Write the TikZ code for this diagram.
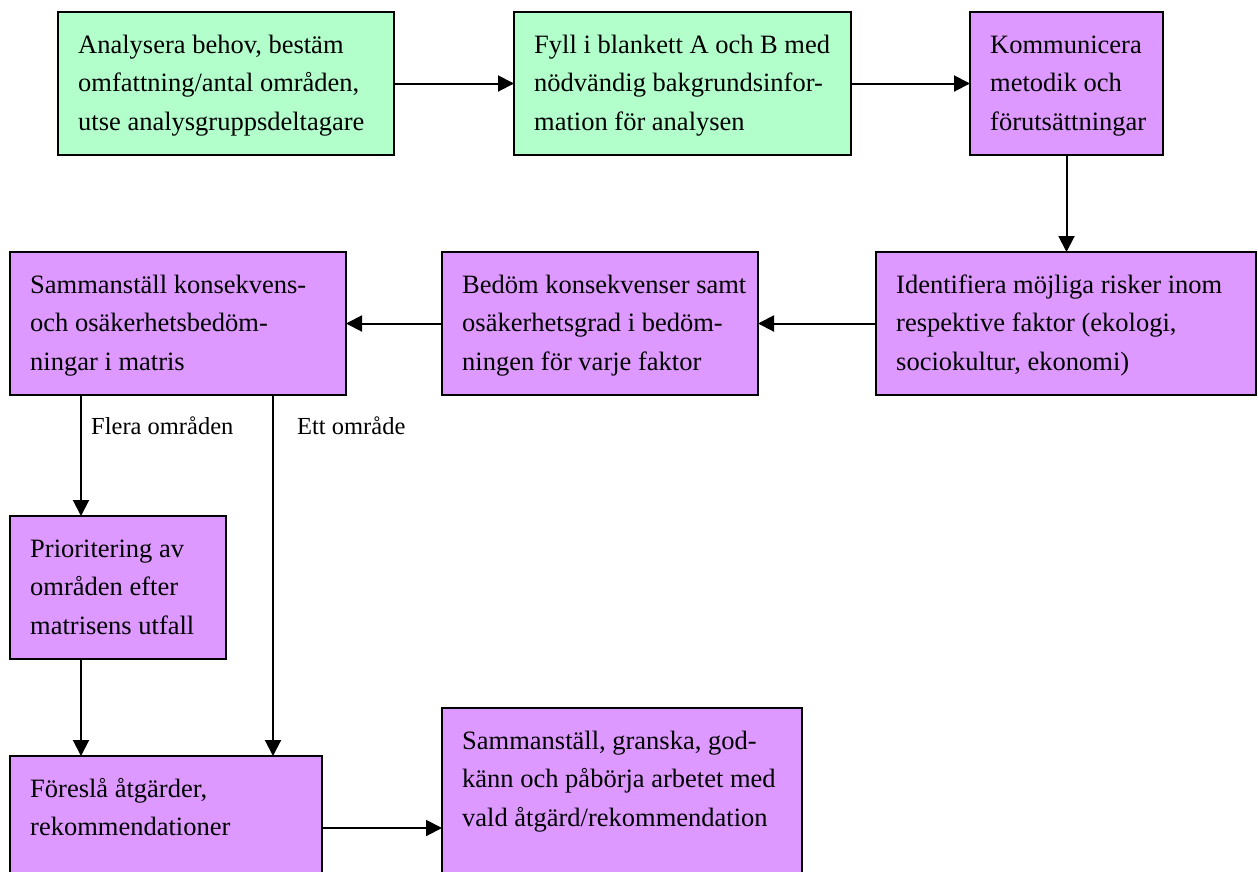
\documentclass[tikz,border=0pt]{standalone}
\usepackage{fontspec}
\setmainfont{Liberation Serif}
\usetikzlibrary{arrows.meta}
\definecolor{boxgreen}{RGB}{179,255,204}
\definecolor{boxpurple}{RGB}{221,153,255}
\tikzset{
  box/.style={draw=black, line width=2.2pt, anchor=north west, inner sep=0pt, outer sep=0pt},
  gbox/.style={box, fill=boxgreen},
  pbox/.style={box, fill=boxpurple},
  txt/.style={anchor=base west, inner sep=0pt, font=\fontsize{26.5}{38.5}\selectfont},
  lbl/.style={anchor=base west, inner sep=0pt, font=\fontsize{24.5}{30}\selectfont},
  arr/.style={line width=2pt, -{Triangle[length=16pt,width=16pt]}}
}
\newcommand{\lines}[1]{\begin{tabular}[t]{@{}l@{}}#1\end{tabular}}
\begin{document}
\begin{tikzpicture}[x=1pt,y=-1pt]
\clip (0,0) rectangle (1258,871);
\fill[white] (0,0) rectangle (1258,871);
% boxes
\node[gbox, minimum width=336pt, minimum height=143pt] (b1) at (58,12) {};
\node[gbox, minimum width=337pt, minimum height=143pt] (b2) at (514,12) {};
\node[pbox, minimum width=193pt, minimum height=143pt] (b3) at (970,12) {};
\node[pbox, minimum width=380pt, minimum height=143pt] (b4) at (876,252) {};
\node[pbox, minimum width=316pt, minimum height=143pt] (b5) at (442,252) {};
\node[pbox, minimum width=336pt, minimum height=143pt] (b6) at (10,252) {};
\node[pbox, minimum width=216pt, minimum height=143pt] (b7) at (10,516) {};
\node[pbox, minimum width=312pt, minimum height=144pt] (b8) at (10,756) {};
\node[pbox, minimum width=360pt, minimum height=200pt] (b9) at (442,708) {};
% texts
\node[txt] (t1) at (78,53) {\lines{Analysera behov, bestäm\\omfattning/antal områden,\\utse analysgruppsdeltagare}};
\node[txt] (t2) at (534,53) {\lines{Fyll i blankett A och B med\\nödvändig bakgrundsinfor-\\mation för analysen}};
\node[txt] (t3) at (990,53) {\lines{Kommunicera\\metodik och\\förutsättningar}};
\node[txt] (t4) at (896,293) {\lines{Identifiera möjliga risker inom\\respektive faktor (ekologi,\\sociokultur, ekonomi)}};
\node[txt] (t5) at (462,293) {\lines{Bedöm konsekvenser samt\\osäkerhetsgrad i bedöm-\\ningen för varje faktor}};
\node[txt] (t6) at (30,293) {\lines{Sammanställ konsekvens-\\och osäkerhetsbedöm-\\ningar i matris}};
\node[txt] (t7) at (30,557) {\lines{Prioritering av\\områden efter\\matrisens utfall}};
\node[txt] (t8) at (30,797) {\lines{Föreslå åtgärder,\\rekommendationer}};
\node[txt] (t9) at (462,749) {\lines{Sammanställ, granska, god-\\känn och påbörja arbetet med\\vald åtgärd/rekommendation}};
% labels
\node[lbl] (l1) at (91,434) {Flera områden};
\node[lbl] (l2) at (297,434) {Ett område};
% connectors
\draw[arr] (b1.east) -- (b2.west);
\draw[arr] (b2.east) -- (b3.west);
\draw[arr] (b3.south) -- (b3.south |- b4.north);
\draw[arr] (b4.west) -- (b5.east);
\draw[arr] (b5.west) -- (b6.east);
\coordinate (c1) at ([xshift=71pt]b6.south west);
\coordinate (c2) at ([xshift=263pt]b6.south west);
\draw[arr] (c1) -- (c1 |- b7.north);
\draw[arr] (c2) -- (c2 |- b8.north);
\coordinate (c3) at ([xshift=71pt]b7.south west);
\draw[arr] (c3) -- (c3 |- b8.north);
\draw[arr] (b8.east) -- (b8.east -| b9.west);
\end{tikzpicture}
\end{document}
